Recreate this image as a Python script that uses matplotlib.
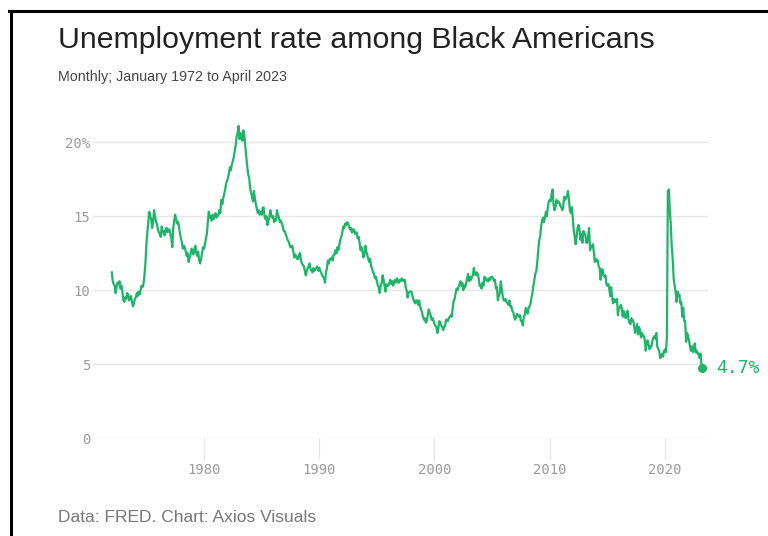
import numpy as np
import pandas as pd
import matplotlib
matplotlib.use('Agg')
import matplotlib.pyplot as plt
import matplotlib.dates as mdates
from matplotlib.lines import Line2D

# Black unemployment rate, monthly, Jan 1972 - Apr 2023
rate = {
    1972: [11.2, 10.6, 10.4, 10.3, 9.8, 10.2, 10.5, 10.4, 10.6, 10.1, 10.3, 9.9],
    1973: [9.3, 9.2, 9.5, 9.4, 9.8, 9.7, 9.3, 9.5, 9.6, 9.2, 8.9, 9.1],
    1974: [9.4, 9.5, 9.8, 9.6, 9.9, 9.7, 10.0, 10.3, 10.2, 10.4, 11.0, 11.8],
    1975: [13.1, 13.9, 14.6, 15.3, 15.0, 14.8, 14.2, 14.6, 15.4, 15.0, 14.6, 14.5],
    1976: [14.1, 13.9, 13.8, 13.6, 14.3, 13.9, 14.0, 13.7, 14.1, 14.2, 13.9, 14.1],
    1977: [14.1, 13.8, 13.5, 12.9, 14.2, 14.7, 15.1, 14.8, 14.5, 14.6, 14.3, 13.8],
    1978: [13.5, 13.2, 12.8, 13.0, 12.9, 12.6, 12.3, 12.5, 11.9, 12.2, 12.4, 12.8],
    1979: [12.6, 12.4, 12.8, 13.0, 12.5, 12.3, 12.6, 12.0, 11.8, 12.1, 12.5, 12.9],
    1980: [12.8, 13.1, 13.5, 13.8, 14.6, 15.3, 14.9, 15.0, 14.7, 15.1, 14.8, 14.9],
    1981: [15.2, 14.9, 15.0, 15.1, 15.4, 15.2, 16.1, 15.8, 16.2, 16.5, 16.8, 17.2],
    1982: [17.4, 17.6, 17.9, 18.3, 18.1, 18.5, 18.7, 19.0, 19.4, 19.8, 20.4, 20.6],
    1983: [21.1, 20.2, 20.6, 20.4, 20.1, 20.8, 20.5, 19.7, 19.0, 18.4, 17.8, 17.6],
    1984: [16.9, 16.6, 16.3, 16.0, 16.7, 16.2, 15.8, 15.5, 15.2, 15.4, 15.1, 15.3],
    1985: [15.1, 15.5, 15.6, 15.0, 14.8, 15.0, 14.4, 14.7, 14.9, 15.4, 15.1, 14.9],
    1986: [15.0, 14.6, 14.8, 14.7, 15.4, 15.1, 14.9, 14.6, 14.7, 14.5, 14.3, 14.0],
    1987: [14.0, 13.8, 13.6, 13.4, 13.3, 13.1, 12.9, 12.9, 13.0, 12.6, 12.2, 12.4],
    1988: [12.3, 12.1, 12.1, 12.4, 12.5, 12.0, 11.8, 11.7, 11.6, 11.3, 11.0, 11.3],
    1989: [11.5, 11.6, 11.8, 11.4, 11.3, 11.2, 11.5, 11.3, 11.4, 11.5, 11.6, 11.3],
    1990: [11.5, 11.3, 11.2, 11.0, 10.9, 10.8, 10.5, 11.2, 11.5, 12.0, 11.8, 12.1],
    1991: [12.1, 12.2, 12.0, 12.4, 12.4, 12.7, 12.5, 12.9, 12.7, 13.1, 13.4, 13.6],
    1992: [13.9, 14.3, 14.2, 14.5, 14.4, 14.6, 14.5, 14.3, 14.1, 14.2, 13.9, 14.1],
    1993: [14.1, 13.8, 13.9, 13.9, 13.5, 13.6, 13.2, 12.7, 12.9, 12.6, 12.2, 12.4],
    1994: [13.0, 12.6, 12.4, 12.1, 11.9, 12.1, 11.6, 11.5, 11.2, 11.1, 10.8, 10.9],
    1995: [10.6, 10.3, 10.2, 9.8, 10.3, 10.5, 11.0, 10.7, 10.3, 9.9, 10.4, 10.3],
    1996: [10.3, 10.5, 10.7, 10.4, 10.6, 10.3, 10.6, 10.7, 10.5, 10.8, 10.6, 10.5],
    1997: [10.7, 10.6, 10.8, 10.7, 10.6, 10.7, 10.2, 10.0, 9.5, 9.8, 9.9, 9.9],
    1998: [9.9, 9.6, 9.4, 9.2, 9.1, 9.3, 9.3, 9.0, 9.3, 8.9, 8.7, 8.5],
    1999: [8.2, 8.0, 8.1, 7.8, 7.9, 8.3, 8.7, 8.5, 8.3, 8.0, 8.1, 7.9],
    2000: [7.7, 7.6, 7.5, 7.1, 7.4, 7.9, 7.8, 7.6, 7.5, 7.3, 7.5, 7.6],
    2001: [8.0, 8.0, 7.9, 8.1, 8.2, 8.3, 8.2, 8.8, 9.3, 9.4, 9.8, 10.1],
    2002: [10.0, 10.2, 10.4, 10.6, 10.3, 10.5, 10.0, 10.3, 10.2, 10.5, 10.8, 11.1],
    2003: [10.6, 10.9, 10.7, 10.9, 11.0, 11.5, 11.1, 11.0, 11.2, 11.1, 10.8, 10.3],
    2004: [10.3, 10.1, 10.5, 10.3, 10.9, 10.7, 10.8, 10.6, 10.6, 10.8, 10.7, 10.9],
    2005: [10.9, 10.8, 10.6, 10.7, 10.1, 10.2, 9.3, 9.6, 9.8, 10.6, 10.1, 9.6],
    2006: [9.3, 9.3, 9.4, 9.2, 9.1, 9.0, 9.3, 8.9, 8.9, 8.6, 8.5, 8.2],
    2007: [8.0, 8.2, 8.4, 8.3, 8.2, 8.3, 7.9, 7.9, 7.6, 8.2, 8.3, 8.8],
    2008: [8.6, 8.4, 8.8, 8.9, 9.1, 9.5, 9.8, 10.3, 10.7, 11.1, 11.3, 11.9],
    2009: [12.7, 13.4, 13.6, 14.3, 14.7, 14.9, 14.6, 14.9, 15.3, 15.0, 15.6, 16.0],
    2010: [16.1, 16.0, 16.5, 16.8, 15.8, 15.4, 15.6, 16.1, 15.9, 16.0, 15.9, 15.7],
    2011: [15.6, 15.4, 15.6, 16.3, 16.1, 16.2, 16.4, 16.7, 16.1, 15.4, 15.2, 15.6],
    2012: [14.9, 14.0, 13.6, 13.1, 13.6, 14.2, 14.4, 14.1, 13.4, 13.8, 13.2, 14.0],
    2013: [13.8, 13.8, 13.2, 13.2, 13.6, 14.2, 12.7, 13.0, 12.9, 13.1, 12.5, 11.9],
    2014: [12.1, 12.0, 12.0, 11.6, 11.5, 10.7, 11.4, 11.4, 11.0, 10.9, 11.0, 10.4],
    2015: [10.3, 10.4, 10.1, 9.6, 10.2, 9.5, 9.1, 9.4, 9.2, 9.2, 9.4, 8.3],
    2016: [8.8, 8.8, 9.0, 8.8, 8.2, 8.6, 8.4, 8.1, 8.3, 8.6, 8.0, 7.8],
    2017: [7.7, 8.1, 8.0, 7.9, 7.5, 7.1, 7.4, 7.7, 7.0, 7.5, 7.3, 6.8],
    2018: [7.1, 6.9, 6.9, 6.6, 5.9, 6.5, 6.6, 6.3, 6.0, 6.2, 6.2, 6.6],
    2019: [6.8, 6.9, 6.7, 7.1, 6.2, 6.0, 5.9, 5.4, 5.5, 5.7, 5.5, 5.9],
    2020: [6.0, 5.8, 6.8, 16.7, 16.8, 15.4, 14.5, 13.0, 12.1, 10.8, 10.3, 9.9],
    2021: [9.2, 9.9, 9.6, 9.7, 9.1, 9.2, 8.2, 8.8, 7.9, 7.9, 6.5, 7.1],
    2022: [6.9, 6.6, 6.2, 5.9, 6.2, 5.8, 6.0, 6.4, 5.8, 5.9, 5.7, 5.7],
    2023: [5.4, 5.7, 5.0, 4.7],
}
yticks = [0, 5, 10, 15, 20]
ytick_labels = ['0', '5', '10', '15', '20%']
xtick_years = [1980, 1990, 2000, 2010, 2020]

values = [v for yr in sorted(rate) for v in rate[yr]]
dates = pd.date_range('1972-01-01', periods=len(values), freq='MS')
df = pd.DataFrame({'date': dates, 'rate': values})

green = '#1fb46a'
grid_c = '#e6e6e6'
mono = ['DejaVu Sans Mono']

fig = plt.figure(figsize=(7.68, 5.36), dpi=100)
fig.patch.set_facecolor('white')

W, H = 768, 536
left, right, top, bottom = 93, 708, 120, 438
ax = fig.add_axes([left / W, 1 - bottom / H, (right - left) / W, (bottom - top) / H])

ax.plot(df.date, df.rate, color=green, lw=1.6, solid_joinstyle='round', zorder=3)
last = df.iloc[-1]
ax.plot([last.date], [last.rate], 'o', color=green, ms=5.5, zorder=4, clip_on=False)
ax.annotate(f'{last.rate:.1f}%', (last.date, last.rate), xytext=(10, 0),
            textcoords='offset points', va='center', ha='left',
            color=green, fontsize=13, family=mono, annotation_clip=False)

ax.set_ylim(0, 21.5)
ax.set_xlim(pd.Timestamp('1970-05-15'), pd.Timestamp('2023-09-25'))
ax.set_yticks(yticks)
ax.set_yticklabels(ytick_labels)
ax.set_xticks([pd.Timestamp(f'{y}-01-01') for y in xtick_years])
ax.xaxis.set_major_formatter(mdates.DateFormatter('%Y'))

for s in ax.spines.values():
    s.set_visible(False)
ax.yaxis.grid(True, color=grid_c, lw=1)
ax.set_axisbelow(True)
ax.tick_params(axis='y', length=0, pad=2, labelsize=10, labelcolor='#9a9a9a')
ax.tick_params(axis='x', length=16, width=0.8, color=grid_c, pad=2,
               labelsize=10, labelcolor='#9a9a9a')
for lab in ax.get_xticklabels() + ax.get_yticklabels():
    lab.set_family(mono)

# titles
sans = ['Liberation Sans', 'DejaVu Sans']
narrow = ['Liberation Sans Narrow', 'Liberation Sans', 'DejaVu Sans']
t1 = fig.text(58 / W, 1 - 48 / H, 'Unemployment rate among Black Americans',
              fontsize=21, color='#222222', family=sans, va='baseline')
t2 = fig.text(58 / W, 1 - 81 / H, 'Monthly; January 1972 to April 2023',
              fontsize=9.5, color='#444444', family=narrow, va='baseline')
t3 = fig.text(58 / W, 1 - 522 / H, 'Data: FRED. Chart: Axios Visuals',
              fontsize=11.5, color='#777777', family=narrow, va='baseline')

# fit text widths to the reference
r = fig.canvas.get_renderer()
for t, target in [(t1, 597), (t2, 229), (t3, 258)]:
    w = t.get_window_extent(r).width
    t.set_fontsize(t.get_fontsize() * target / w)

# frame lines on the left and top
fig.add_artist(Line2D([10.5 / W, 10.5 / W], [0, 1 - 10.5 / H], color='black', lw=2.2))
fig.add_artist(Line2D([9 / W, 1], [1 - 10.5 / H, 1 - 10.5 / H], color='black', lw=2.2))

fig.savefig('out.png', dpi=100, facecolor='white')
